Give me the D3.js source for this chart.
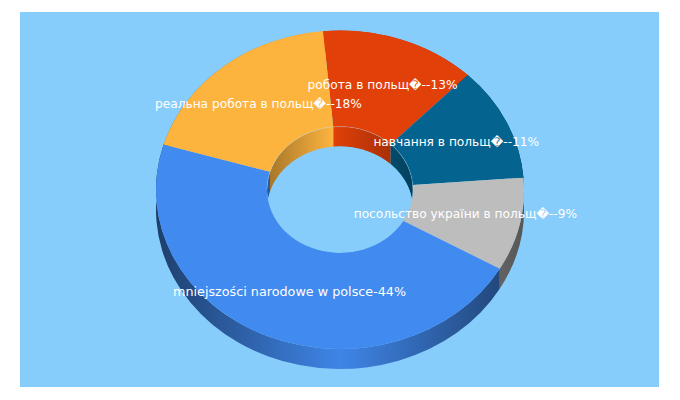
<!DOCTYPE html>
<html><head><meta charset="utf-8">
<style>html,body{margin:0;padding:0;background:#fff}svg{display:block}</style>
<script src="https://cdn.jsdelivr.net/npm/d3@7"></script></head>
<body><div id="c"></div>
<script>
const categories=["робота в польщ\uFFFD-","навчання в польщ\uFFFD-","посольство україни в польщ\uFFFD-","mniejszości narodowe w polsce","реальна робота в польщ\uFFFD-"];
const values=[13,11,9,44,18];
const colors=["#e24009","#05638f","#bdbdbd","#418aef","#fdb43f"];

const W=680,H=400,cx=340,cy=189.75,R=184,r=73,squash=159.25/184,depth=20;
const bg="#87cdfb";
const svg=d3.select("#c").append("svg").attr("width",W).attr("height",H);
const defs=svg.append("defs");
svg.append("rect").attr("x",20).attr("y",12).attr("width",639).attr("height",375).attr("fill",bg);

const pie=d3.pie().sort(null).value(d=>d).startAngle(-5.3*Math.PI/180).endAngle((360-5.3)*Math.PI/180);
const arcs=pie(values);
const arc=d3.arc().innerRadius(r).outerRadius(R);

const pt=(a,rad)=>[rad*Math.sin(a),-rad*squash*Math.cos(a)];
function wall(a0,a1,rad){
  const [x0,y0]=pt(a0,rad),[x1,y1]=pt(a1,rad),ry=rad*squash,lg=a1-a0>Math.PI?1:0;
  return `M${x0},${y0}A${rad},${ry} 0 ${lg} 1 ${x1},${y1}L${x1},${y1+depth}A${rad},${ry} 0 ${lg} 0 ${x0},${y0+depth}Z`;
}
function grad(id,x0,x1,stops){
  const g=defs.append("linearGradient").attr("id",id).attr("gradientUnits","userSpaceOnUse")
    .attr("x1",x0).attr("x2",x1).attr("y1",0).attr("y2",0);
  stops.forEach(([o,c])=>g.append("stop").attr("offset",o).attr("stop-color",c));
  return `url(#${id})`;
}
const shade=(c,k)=>d3.color(c).darker(k).formatHex();
const root=svg.append("g").attr("transform",`translate(${cx},${cy})`);

// outer wall
const outer=root.append("g");
arcs.forEach((d,i)=>{
  const f=grad("o"+i,-R,R,[[0,shade(colors[i],2.2)],[0.5,shade(colors[i],.1)],[1,shade(colors[i],2.2)]]);
  outer.append("path").attr("d",wall(d.startAngle,d.endAngle,R)).attr("fill",f);
});

// inner wall, seen through the hole
defs.append("clipPath").attr("id","hole").append("ellipse").attr("rx",r).attr("ry",r*squash);
const inner=root.append("g").attr("clip-path","url(#hole)");
arcs.forEach((d,i)=>{
  const f=grad("i"+i,-r,r,[[0,shade(colors[i],1.2)],[0.45,colors[i]],[1,shade(colors[i],1.2)]]);
  inner.append("path").attr("d",wall(d.startAngle,d.endAngle,r)).attr("fill",f);
});
inner.append("ellipse").attr("cy",depth).attr("rx",r).attr("ry",r*squash).attr("fill",bg);

// top ring
const ring=root.append("g").attr("transform",`scale(1,${squash})`);
ring.selectAll("path").data(arcs).join("path").attr("d",arc).attr("fill",(d,i)=>colors[i]);

// faint rim along the back of the hole
root.append("path").attr("d",`M${-r},0A${r},${r*squash} 0 0 1 ${r},0`)
  .attr("fill","none").attr("stroke","#fff").attr("stroke-opacity",.18).attr("stroke-width",1);

// labels
const latin=/^[\u0000-\u024F]/;
root.append("g").selectAll("text").data(arcs).join("text")
  .attr("x",d=>arc.centroid(d)[0]).attr("y",d=>arc.centroid(d)[1]*squash+4)
  .attr("text-anchor","middle").attr("fill","#fff")
  .attr("font-family","'DejaVu Sans',sans-serif")
  .attr("font-size",(d,i)=>latin.test(categories[i])?12.75:12.2)
  .text((d,i)=>`${categories[i]}-${values[i]}%`);
</script></body></html>
